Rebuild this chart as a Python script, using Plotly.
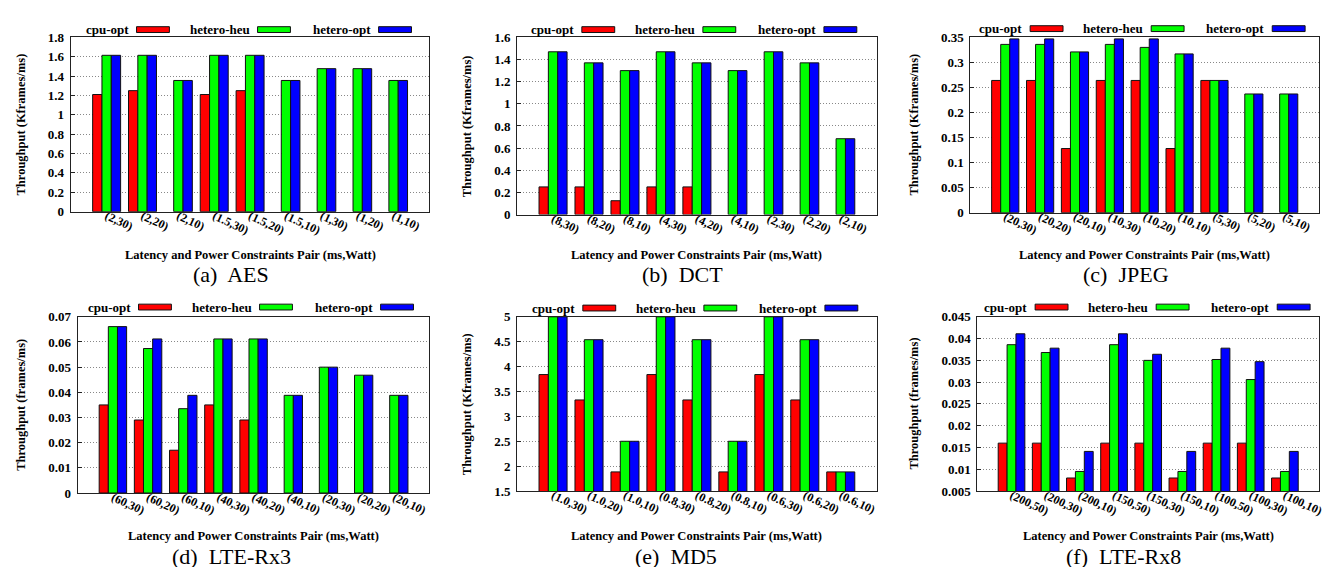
import plotly.graph_objects as go

# ---------------- data ----------------
series_names = ["cpu-opt", "hetero-heu", "hetero-opt"]
series_colors = ["#FF0000", "#00FF00", "#0000FF"]

# None = no bar drawn for that configuration
aes_labels = ["(2,30)", "(2,20)", "(2,10)", "(1.5,30)", "(1.5,20)", "(1.5,10)", "(1,30)", "(1,20)", "(1,10)"]
aes_cpu_opt = [1.21, 1.25, None, 1.21, 1.25, None, None, None, None]
aes_hetero_heu = [1.615, 1.615, 1.355, 1.615, 1.615, 1.355, 1.477, 1.477, 1.355]
aes_hetero_opt = [1.615, 1.615, 1.355, 1.615, 1.615, 1.355, 1.477, 1.477, 1.355]

dct_labels = ["(8,30)", "(8,20)", "(8,10)", "(4,30)", "(4,20)", "(4,10)", "(2,30)", "(2,20)", "(2,10)"]
dct_cpu_opt = [0.25, 0.25, 0.125, 0.25, 0.25, None, None, None, None]
dct_hetero_heu = [1.47, 1.37, 1.30, 1.47, 1.37, 1.30, 1.47, 1.37, 0.685]
dct_hetero_opt = [1.47, 1.37, 1.30, 1.47, 1.37, 1.30, 1.47, 1.37, 0.685]

jpeg_labels = ["(20,30)", "(20,20)", "(20,10)", "(10,30)", "(10,20)", "(10,10)", "(5,30)", "(5,20)", "(5,10)"]
jpeg_cpu_opt = [0.264, 0.264, 0.128, 0.264, 0.264, 0.128, 0.264, None, None]
jpeg_hetero_heu = [0.336, 0.336, 0.321, 0.336, 0.330, 0.317, 0.264, 0.237, 0.237]
jpeg_hetero_opt = [0.347, 0.347, 0.321, 0.347, 0.347, 0.317, 0.264, 0.237, 0.237]

lte3_labels = ["(60,30)", "(60,20)", "(60,10)", "(40,30)", "(40,20)", "(40,10)", "(20,30)", "(20,20)", "(20,10)"]
lte3_cpu_opt = [0.035, 0.029, 0.017, 0.035, 0.029, None, None, None, None]
lte3_hetero_heu = [0.0661, 0.0574, 0.0335, 0.0612, 0.0612, 0.0388, 0.050, 0.0468, 0.0388]
lte3_hetero_opt = [0.0661, 0.0612, 0.0388, 0.0612, 0.0612, 0.0388, 0.050, 0.0468, 0.0388]

md5_labels = ["(1.0,30)", "(1.0,20)", "(1.0,10)", "(0.8,30)", "(0.8,20)", "(0.8,10)", "(0.6,30)", "(0.6,20)", "(0.6,10)"]
md5_cpu_opt = [3.84, 3.33, 1.885, 3.84, 3.33, 1.885, 3.84, 3.33, 1.885]
md5_hetero_heu = [5.0, 4.54, 2.5, 5.0, 4.54, 2.5, 5.0, 4.54, 1.885]
md5_hetero_opt = [5.0, 4.54, 2.5, 5.0, 4.54, 2.5, 5.0, 4.54, 1.885]

lte8_labels = ["(200,50)", "(200,30)", "(200,10)", "(150,50)", "(150,30)", "(150,10)", "(100,50)", "(100,30)", "(100,10)"]
lte8_cpu_opt = [0.016, 0.016, 0.008, 0.016, 0.016, 0.008, 0.016, 0.016, 0.008]
lte8_hetero_heu = [0.0386, 0.0368, 0.0095, 0.0386, 0.0350, 0.0095, 0.0352, 0.0306, 0.0095]
lte8_hetero_opt = [0.0411, 0.0378, 0.0141, 0.0411, 0.0364, 0.0141, 0.0378, 0.0347, 0.0141]

x_title = "Latency and Power Constraints Pair (ms,Watt)"

# ---------------- layout helpers ----------------
W, H = 1333, 567
SERIF = "Liberation Serif"

panels = [
    dict(labels=aes_labels, series=[aes_cpu_opt, aes_hetero_heu, aes_hetero_opt],
         yrange=[0, 1.8], dtick=0.2, ytitle="Throughput (Kframes/ms)", caption="(a)  AES",
         px=(63, 423), py=(23, 202), xt_y=247, cap=(224, 267), yt_x=13, leg_end=405, leg_y=15),
    dict(labels=dct_labels, series=[dct_cpu_opt, dct_hetero_heu, dct_hetero_opt],
         yrange=[0, 1.6], dtick=0.2, ytitle="Throughput (Kframes/ms)", caption="(b)  DCT",
         px=(511, 872), py=(23, 205), xt_y=247, cap=(677, 267), yt_x=461, leg_end=852, leg_y=15),
    dict(labels=jpeg_labels, series=[jpeg_cpu_opt, jpeg_hetero_heu, jpeg_hetero_opt],
         yrange=[0, 0.35], dtick=0.05, ytitle="Throughput (Kframes/ms)", caption="(c)  JPEG",
         px=(966, 1316), py=(23, 203), xt_y=247, cap=(1122, 267), yt_x=909, leg_end=1302, leg_y=14),
    dict(labels=lte3_labels, series=[lte3_cpu_opt, lte3_hetero_heu, lte3_hetero_opt],
         yrange=[0, 0.07], dtick=0.01, ytitle="Throughput (frames/ms)", caption="(d)  LTE-Rx3",
         px=(70, 423), py=(310, 491), xt_y=535, cap=(224, 556), yt_x=13, leg_end=407, leg_y=300),
    dict(labels=md5_labels, series=[md5_cpu_opt, md5_hetero_heu, md5_hetero_opt],
         yrange=[1.5, 5], dtick=0.5, ytitle="Throughput (Kframes/ms)", caption="(e)  MD5",
         px=(511, 872), py=(310, 489), xt_y=535, cap=(671, 556), yt_x=461, leg_end=853, leg_y=301),
    dict(labels=lte8_labels, series=[lte8_cpu_opt, lte8_hetero_heu, lte8_hetero_opt],
         yrange=[0.005, 0.045], dtick=0.005, ytitle="Throughput (frames/ms)", caption="(f)  LTE-Rx8",
         px=(973, 1316), py=(310, 489), xt_y=535, cap=(1120, 556), yt_x=909, leg_end=1307, leg_y=300),
]


def fx(p):
    return p / W


def fy(p):
    return 1 - p / H


BOLD = dict(family=SERIF, size=13, color="black", weight="bold")
TITLE = dict(family=SERIF, size=12.5, color="black", weight="bold")
XTICK = dict(family=SERIF, size=12, color="black", weight="bold")

fig = go.Figure()
annotations = []
shapes = []
layout_axes = {}

for i, pn in enumerate(panels, start=1):
    xa = "x" if i == 1 else f"x{i}"
    ya = "y" if i == 1 else f"y{i}"
    for name, color, vals in zip(series_names, series_colors, pn["series"]):
        fig.add_trace(go.Bar(
            x=pn["labels"], y=vals, name=name, xaxis=xa, yaxis=ya,
            marker=dict(color=color, line=dict(color="#111111", width=1)),
            showlegend=False,
        ))
    x0, x1 = pn["px"]
    y0, y1 = pn["py"]
    layout_axes["xaxis" if i == 1 else f"xaxis{i}"] = dict(
        domain=[fx(x0), fx(x1)], anchor=ya, type="category", range=[-1, 9],
        showline=True, mirror=True, linecolor="#222222", linewidth=1.2,
        showgrid=False, ticks="", tickangle=25, ticklabelstandoff=-8,
        tickfont=XTICK, fixedrange=True,
    )
    layout_axes["yaxis" if i == 1 else f"yaxis{i}"] = dict(
        domain=[fy(y1), fy(y0)], anchor=xa, range=pn["yrange"], dtick=pn["dtick"],
        tick0=pn["yrange"][0],
        showline=True, mirror=True, linecolor="#222222", linewidth=1.2,
        showgrid=True, gridcolor="#888888", griddash="1px,2px", gridwidth=1,
        zeroline=False, ticks="inside", ticklen=4, tickcolor="#222222",
        ticklabelstandoff=3, tickfont=BOLD, fixedrange=True,
    )
    # x-axis title
    annotations.append(dict(
        text=x_title, x=fx((x0 + x1) / 2), y=fy(pn["xt_y"]), xref="paper", yref="paper",
        xanchor="center", yanchor="middle", showarrow=False, font=TITLE,
    ))
    # y-axis title
    annotations.append(dict(
        text=pn["ytitle"], x=fx(pn["yt_x"]), y=fy((y0 + y1) / 2), xref="paper", yref="paper",
        xanchor="center", yanchor="middle", showarrow=False, textangle=-90, font=TITLE,
    ))
    # caption
    cx, cy = pn["cap"]
    annotations.append(dict(
        text=pn["caption"].replace("  ", "\u00a0 "), x=fx(cx), y=fy(cy), xref="paper", yref="paper",
        xanchor="center", yanchor="middle", showarrow=False,
        font=dict(family=SERIF, size=22, color="black"),
    ))
    # legend (gnuplot style: text then swatch)
    sw_w, sw_h, step = 33, 6, 121.5
    for k, (name, color) in enumerate(zip(series_names, series_colors)):
        right = pn["leg_end"] - (2 - k) * step
        left = right - sw_w
        ly = pn["leg_y"]
        shapes.append(dict(
            type="rect", xref="paper", yref="paper",
            x0=fx(left), x1=fx(right), y0=fy(ly + sw_h / 2), y1=fy(ly - sw_h / 2),
            fillcolor=color, line=dict(color="#111111", width=1),
        ))
        annotations.append(dict(
            text=name, x=fx(left - 6), y=fy(ly), xref="paper", yref="paper",
            xanchor="right", yanchor="middle", showarrow=False, font=BOLD,
        ))

fig.update_layout(
    width=W, height=H, margin=dict(l=0, r=0, t=0, b=0),
    paper_bgcolor="white", plot_bgcolor="white",
    font=dict(family=SERIF),
    barmode="group", bargap=0.22, bargroupgap=0,
    annotations=annotations, shapes=shapes,
    **layout_axes,
)

fig.write_html("out.html")
